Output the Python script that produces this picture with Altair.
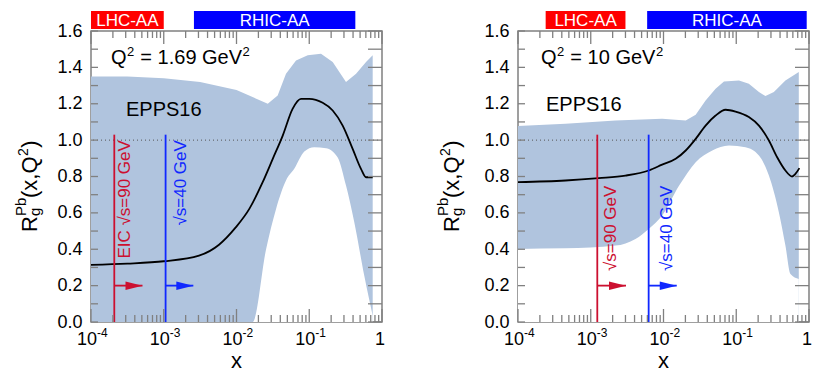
import altair as alt
import pandas as pd

W = 291
H = 291
BAND = "#b0c4de"
RED = "#cc1030"
BLUE = "#1028ff"
FRAME = "#808080"
FONT = "Liberation Sans"

# ---------------- data: left panel, Q^2 = 1.69 GeV^2 ----------------
L_cx = [1e-4, 3.16e-4, 1e-3, 3.05e-3, 5.75e-3, 9.75e-3, 1.5e-2, 2.29e-2, 3.15e-2, 4.32e-2,
        5.9e-2, 7.7e-2, 0.1, 0.153, 0.21, 0.288, 0.395, 0.514, 0.603, 0.745]
L_cy = [0.314, 0.321, 0.334, 0.365, 0.425, 0.52, 0.622, 0.769, 0.897, 1.025,
        1.172, 1.227, 1.227, 1.205, 1.163, 1.08, 0.952, 0.842, 0.796, 0.796]
L_ux = [1e-4, 3.16e-4, 1e-3, 3.16e-3, 1e-2, 2.69e-2, 3.68e-2, 4.79e-2, 6.58e-2, 9.53e-2,
        0.145, 0.21, 0.32, 0.44, 0.603, 0.745]
L_uy = [1.35, 1.35, 1.34, 1.32, 1.275, 1.2, 1.245, 1.365, 1.438, 1.466,
        1.475, 1.43, 1.319, 1.365, 1.43, 1.466]
L_lx = [1e-4, 1.67e-2, 2.55e-2, 3.49e-2, 4.79e-2, 6.22e-2, 8.55e-2, 0.117, 0.17, 0.245,
        0.32, 0.416, 0.57, 0.745]
L_ly = [0.0, 0.0, 0.40, 0.62, 0.778, 0.842, 0.937, 0.961, 0.956, 0.906,
        0.75, 0.549, 0.255, 0.035]

# ---------------- data: right panel, Q^2 = 10 GeV^2 ----------------
R_cx = [1e-4, 4.5e-4, 1.29e-3, 3.0e-3, 6.26e-3, 9.57e-3, 1.47e-2, 2.02e-2, 2.77e-2, 3.79e-2,
        5.2e-2, 7.13e-2, 9.77e-2, 0.149, 0.205, 0.281, 0.365, 0.474, 0.586, 0.65, 0.738]
R_cy = [0.769, 0.778, 0.791, 0.805, 0.833, 0.865, 0.897, 0.943, 1.007, 1.08,
        1.135, 1.167, 1.157, 1.127, 1.08, 0.998, 0.906, 0.833, 0.80, 0.814, 0.846]
R_ux = [1e-4, 4.5e-4, 2.19e-3, 9.57e-3, 2.02e-2, 2.77e-2, 3.79e-2, 5.2e-2, 6.78e-2, 0.109,
        0.149, 0.205, 0.252, 0.329, 0.474, 0.724]
R_uy = [1.077, 1.09, 1.108, 1.117, 1.108, 1.139, 1.218, 1.282, 1.323, 1.328,
        1.31, 1.264, 1.242, 1.264, 1.328, 1.374]
R_lx = [1e-4, 4.5e-4, 2.19e-3, 4.12e-3, 6.26e-3, 9.57e-3, 1.64e-2, 2.77e-2, 4.69e-2, 7.94e-2,
        0.134, 0.205, 0.281, 0.385, 0.474, 0.556, 0.724]
R_ly = [0.402, 0.405, 0.42, 0.457, 0.512, 0.585, 0.75, 0.879, 0.943, 0.97,
        0.961, 0.915, 0.805, 0.604, 0.42, 0.264, 0.237]

# kinematic limits (vertical lines) and arrow tips
L_lines = [2.09e-4, 1.06e-3]
L_tips = [5.1e-4, 2.55e-3]
R_lines = [1.23e-3, 6.25e-3]
R_tips = [3.05e-3, 1.52e-2]
L_line_labels = ["EIC \u221as=90 GeV", "\u221as=40 GeV"]
R_line_labels = ["\u221as=90 GeV", "\u221as=40 GeV"]
line_colors = [RED, BLUE]

# experiment coverage boxes
L_boxes = [(1e-4, 1e-3), (2.6e-3, 0.43)]
R_boxes = [(2.4e-4, 3.0e-3), (5.96e-3, 0.93)]
box_names = ["LHC-AA", "RHIC-AA"]
box_colors = ["#ff0000", "#0000ff"]

# axes ticks
x_major = [1e-4, 1e-3, 1e-2, 1e-1]
x_major_exp = ["-4", "-3", "-2", "-1"]
x_minor = [m * d for d in [1e-4, 1e-3, 1e-2, 1e-1] for m in range(2, 10)]
y_ticks = [i / 10 for i in range(17)]
y_labels = [i / 10 for i in range(0, 17, 2)]

# approximate Arial/Liberation Sans advance widths (em) for placing super/subscripts
CW = {'Q': 0.778, '2': 0.556, ' ': 0.278, '=': 0.584, '1': 0.556, '.': 0.278, '6': 0.556,
      '9': 0.556, 'G': 0.778, 'e': 0.556, 'V': 0.667, '0': 0.556, '(': 0.333, ')': 0.333,
      'x': 0.5, ',': 0.278, 'R': 0.722, 'P': 0.667, 'b': 0.556, 'g': 0.556}


def tw(s, size):
    return sum(CW.get(c, 0.556) for c in s) * size


xscale = alt.Scale(type="log", domain=[1e-4, 1.0], nice=False)
yscale = alt.Scale(domain=[0, 1.6], nice=False, zero=False)

yaxis = alt.Axis(values=y_labels, format=".1f", ticks=False, domain=False, grid=False,
                 labelFontSize=18, labelFont=FONT, labelColor="black", labelPadding=9,
                 labelFlush=False, labelOverlap=False, title="")


def X(f="x"):
    return alt.X(f"{f}:Q", scale=xscale, axis=None)


def Y(f="y"):
    return alt.Y(f"{f}:Q", scale=yscale, axis=yaxis)


ONE = pd.DataFrame({"a": [0]})


def seg_text(segs, x0, y0, rotated=False):
    """segs: list of (text, size, raise). Returns text layers at pixel positions."""
    out = []
    off = 0.0
    for txt, size, rz in segs:
        lead = len(txt) - len(txt.lstrip(" "))
        off += tw(" " * lead, size)
        body = txt.strip(" ")
        if rotated:
            px, py, ang = x0 - rz, y0 - off, 270
        else:
            px, py, ang = x0 + off, y0 - rz, 0
        out.append(alt.Chart(ONE).mark_text(text=body, fontSize=size, font=FONT, align="left",
                                            baseline="alphabetic", angle=ang, color="black")
                   .encode(x=alt.value(px), y=alt.value(py)))
        off += tw(body, size) + 0.5
    return out


def panel(cx, cy, ux, uy, lx, ly, lines, tips, labels, label_top, label_dy, boxes, q2segs, q2_pos,
          epps_pos, ytitle_x):
    layers = []
    # uncertainty band: fill up to upper edge, then blank out below the lower edge
    layers.append(alt.Chart(pd.DataFrame({"x": ux, "y": uy})).mark_area(color=BAND, opacity=1)
                  .encode(x=X(), y=Y(), y2=alt.Y2(datum=0)))
    layers.append(alt.Chart(pd.DataFrame({"x": lx, "y": ly})).mark_area(color="white", opacity=1,
                                                                         interpolate="monotone")
                  .encode(x=X(), y=Y(), y2=alt.Y2(datum=0)))
    # dotted line at 1
    layers.append(alt.Chart(pd.DataFrame({"y": [1.0]})).mark_rule(color="#555555", strokeWidth=1,
                                                                   strokeDash=[1, 3])
                  .encode(y=Y()))
    # central curve
    layers.append(alt.Chart(pd.DataFrame({"x": cx, "y": cy})).mark_line(color="black", strokeWidth=1.8,
                                                                         interpolate="monotone")
                  .encode(x=X(), y=Y()))
    # vertical kinematic lines with arrows
    vl = pd.DataFrame({"x": lines, "y": [0.0, 0.0], "y2": [1.03, 1.03], "c": line_colors,
                       "x2": tips, "ya": [0.2, 0.2]})
    layers.append(alt.Chart(vl).mark_rule(strokeWidth=1.8)
                  .encode(x=X(), y=Y(), y2="y2:Q", color=alt.Color("c:N", scale=None)))
    layers.append(alt.Chart(vl).mark_rule(strokeWidth=1.8)
                  .encode(x=X(), x2="x2:Q", y=Y("ya"), color=alt.Color("c:N", scale=None)))
    layers.append(alt.Chart(vl).mark_point(shape="M -2 -0.5 L 0 0 L -2 0.5 Z", size=289, filled=True,
                                           opacity=1, strokeWidth=0)
                  .encode(x=X("x2"), y=Y("ya"), color=alt.Color("c:N", scale=None)))
    for i in range(2):
        d = pd.DataFrame({"x": [lines[i]], "y": [label_top], "t": [labels[i]]})
        layers.append(alt.Chart(d).mark_text(angle=270, align="right", baseline="alphabetic",
                                             dy=label_dy[i], fontSize=17, font=FONT,
                                             color=line_colors[i])
                      .encode(x=X(), y=Y(), text="t:N"))
    # coverage boxes above the frame
    bx = pd.DataFrame({"x": [b[0] for b in boxes], "x2": [b[1] for b in boxes],
                       "y": [1.611, 1.611], "y2": [1.71, 1.71], "c": box_colors, "t": box_names,
                       "xm": [(b[0] * b[1]) ** 0.5 for b in boxes], "ym": [1.661, 1.661]})
    layers.append(alt.Chart(bx).mark_rect(clip=False)
                  .encode(x=X(), x2="x2:Q", y=Y(), y2="y2:Q", color=alt.Color("c:N", scale=None)))
    layers.append(alt.Chart(bx).mark_text(color="white", fontSize=17, font=FONT, baseline="middle",
                                          align="center", dy=1)
                  .encode(x=X("xm"), y=Y("ym"), text="t:N"))
    # inward ticks
    tk = alt.Chart(pd.DataFrame({"x": x_major + [1.0]}))
    tm = alt.Chart(pd.DataFrame({"x": x_minor}))
    ty = alt.Chart(pd.DataFrame({"y": y_ticks}))
    rk = dict(color=FRAME, strokeWidth=1.3)
    layers.append(tk.mark_rule(**rk).encode(x=X(), y=alt.value(H), y2=alt.value(H - 13)))
    layers.append(tk.mark_rule(**rk).encode(x=X(), y=alt.value(0), y2=alt.value(13)))
    layers.append(tm.mark_rule(**rk).encode(x=X(), y=alt.value(H), y2=alt.value(H - 7)))
    layers.append(tm.mark_rule(**rk).encode(x=X(), y=alt.value(0), y2=alt.value(7)))
    layers.append(ty.mark_rule(**rk).encode(y=Y(), x=alt.value(0), x2=alt.value(7)))
    layers.append(ty.mark_rule(**rk).encode(y=Y(), x=alt.value(W - 14), x2=alt.value(W)))
    # x tick labels 10^n and 1, x title
    xl = pd.DataFrame({"x": x_major, "e": x_major_exp})
    layers.append(alt.Chart(xl).mark_text(text="10", fontSize=18, font=FONT, align="right",
                                          baseline="alphabetic", dx=6, color="black")
                  .encode(x=X(), y=alt.value(H + 23)))
    layers.append(alt.Chart(xl).mark_text(fontSize=12, font=FONT, align="left",
                                          baseline="alphabetic", dx=6, color="black")
                  .encode(x=X(), y=alt.value(H + 15), text="e:N"))
    layers.append(alt.Chart(pd.DataFrame({"x": [1.0]})).mark_text(
        text="1", fontSize=18, font=FONT, align="center", baseline="alphabetic", dx=-2, color="black")
        .encode(x=X(), y=alt.value(H + 23)))
    layers.append(alt.Chart(ONE).mark_text(text="x", fontSize=22, font=FONT, align="center",
                                           baseline="alphabetic", color="black")
                  .encode(x=alt.value(W / 2), y=alt.value(H + 46)))
    # annotations
    layers += seg_text(q2segs, q2_pos[0], q2_pos[1])
    layers.append(alt.Chart(ONE).mark_text(text="EPPS16", fontSize=20, font=FONT, align="left",
                                           baseline="alphabetic", color="black")
                  .encode(x=alt.value(epps_pos[0]), y=alt.value(epps_pos[1])))
    # y-axis title R_g^Pb(x,Q^2) built from pieces
    tx = ytitle_x
    yb = 201
    layers += seg_text([("R", 22, 0)], tx, yb, rotated=True)
    layers += seg_text([("Pb", 15, 11)], tx, yb - 16, rotated=True)
    layers += seg_text([("g", 15, -3)], tx, yb - 16, rotated=True)
    layers += seg_text([("(x,Q", 22, 0), ("2", 14, 9), (")", 22, 0)], tx, yb - 34, rotated=True)
    return alt.layer(*layers).properties(width=W, height=H)


left = panel(L_cx, L_cy, L_ux, L_uy, L_lx, L_ly, L_lines, L_tips, L_line_labels, 1.0, [16, 20],
             L_boxes, [("Q", 20, 0), ("2", 13, 8), (" = 1.69 GeV", 20, 0), ("2", 13, 8)],
             (20, 33), (35, 85), -54)
right = panel(R_cx, R_cy, R_ux, R_uy, R_lx, R_ly, R_lines, R_tips, R_line_labels, 0.75, [19, 23],
              R_boxes, [("Q", 20, 0), ("2", 13, 8), (" = 10 GeV", 20, 0), ("2", 13, 8)],
              (23, 33), (28, 80), -59)

chart = alt.hconcat(left, right, spacing=136).properties(
    bounds="flush",
    padding={"left": 5, "top": 2, "right": 5, "bottom": 3},
).configure(font=FONT).configure_view(stroke=FRAME, strokeWidth=1.5)

chart.save("out.html", embed_options={"renderer": "svg", "actions": False})
